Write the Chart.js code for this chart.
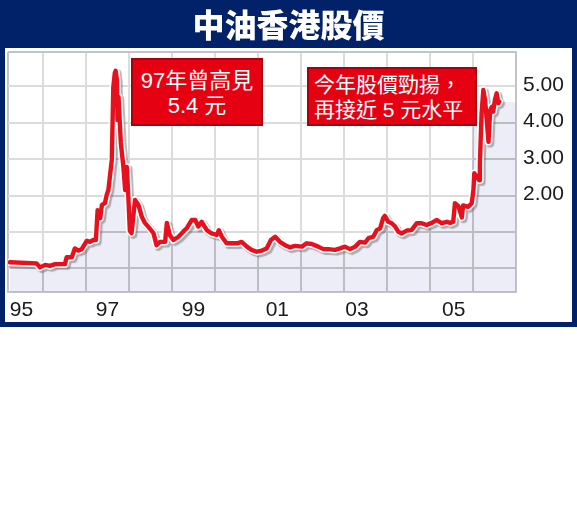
<!DOCTYPE html>
<html><head><meta charset="utf-8">
<script src="https://cdn.jsdelivr.net/npm/chart.js@4.4.0/dist/chart.umd.min.js"></script>
<style>
html,body{margin:0;padding:0;background:#fff;}
#wrap{position:relative;width:577px;height:327px;background:#012169;}
#panel{position:absolute;left:5px;top:48px;width:567px;height:274px;background:#fff;}
canvas{position:absolute;left:0;top:0;}
.note{position:absolute;box-sizing:border-box;background:#e50012;border:2px solid #a8000c;color:#fff;
 font-family:"Liberation Sans","Noto Sans CJK TC",sans-serif;line-height:25px;white-space:nowrap;}
#n1{left:131px;top:58px;width:132px;height:68px;text-align:center;font-size:22px;padding-top:8px;}
#n2{left:307px;top:67px;width:170px;height:59px;text-align:left;font-size:21px;padding-top:3px;padding-left:5px;}
</style></head>
<body>
<div id="wrap">
 <div id="panel"></div>
 <canvas id="c" width="577" height="327"></canvas>
 <div class="note" id="n1">97年曾高見<br>5.4 元</div>
 <div class="note" id="n2">今年股價勁揚，<br>再接近 5 元水平</div>
</div>
<script>
const dates = [1995.23,1995.85,1995.93,1996.05,1996.16,1996.28,1996.51,1996.55,1996.67,1996.74,1996.82,1996.90,
 1997.02,1997.09,1997.17,1997.23,1997.27,1997.33,1997.37,1997.44,1997.48,1997.52,1997.56,1997.60,1997.635,1997.67,
 1997.69,1997.72,1997.733,1997.756,1997.81,1997.87,1997.91,1997.95,1997.98,
 1998.02,1998.06,1998.14,1998.22,1998.30,1998.37,1998.45,1998.57,1998.64,1998.72,1998.84,1998.88,1998.95,
 1999.03,1999.15,1999.26,1999.34,1999.46,1999.54,1999.61,1999.69,1999.81,1999.92,
 2000.04,2000.09,2000.16,2000.27,2000.39,2000.51,2000.62,2000.74,2000.85,2000.97,
 2001.09,2001.20,2001.30,2001.40,2001.51,2001.63,2001.74,2001.86,
 2002.02,2002.13,2002.25,2002.40,2002.52,2002.64,2002.79,2002.91,
 2003.02,2003.14,2003.26,2003.37,2003.49,2003.57,2003.68,2003.76,2003.84,2003.91,2003.95,
 2004.03,2004.11,2004.19,2004.26,2004.34,2004.46,2004.57,2004.69,2004.81,2004.92,
 2005.04,2005.16,2005.27,2005.39,2005.47,2005.54,2005.58,2005.66,2005.74,2005.77,2005.89,2005.97,
 2006.01,2006.03,2006.09,2006.14,2006.16,2006.20,2006.24,2006.28,2006.32,2006.36,2006.40,2006.44,2006.47,
 2006.51,2006.55,2006.59,2006.61];
const prices = [0.17,0.14,0.03,0.10,0.07,0.12,0.12,0.31,0.31,0.55,0.49,0.53,
 0.76,0.73,0.78,0.78,1.60,1.38,1.74,1.79,2.01,2.15,2.56,2.97,4.97,5.36,
 5.42,5.16,4.07,4.70,3.44,2.78,2.15,2.78,2.07,
 1.03,0.97,1.88,1.74,1.41,1.25,1.14,0.97,0.64,0.73,0.73,1.25,0.92,
 0.78,0.87,1.01,1.10,1.33,1.33,1.15,1.28,1.05,0.96,
 0.92,1.05,0.87,0.69,0.69,0.69,0.73,0.60,0.51,0.46,
 0.49,0.55,0.78,0.87,0.73,0.64,0.58,0.62,
 0.60,0.69,0.67,0.60,0.53,0.53,0.51,0.55,
 0.60,0.53,0.60,0.73,0.71,0.83,0.87,1.05,1.10,1.38,1.44,
 1.28,1.24,1.15,1.01,0.96,1.04,1.05,1.24,1.24,1.19,
 1.25,1.33,1.24,1.28,1.25,1.28,1.79,1.71,1.40,1.73,1.69,1.79,
 2.15,2.61,2.52,2.42,2.88,4.25,4.89,4.62,4.07,3.47,4.34,4.43,4.30,
 4.62,4.80,4.53,4.57];

const xMin = 1995.186, xMax = 2007;
const yMin = -0.644, yMax = 5.932;
const gridYears = [1996,1997,1998,1999,2000,2001,2002,2003,2004,2005,2006];
const yGridValues = [0,1,2,3,4,5];
const yTickLabels = {2:'2.00',3:'3.00',4:'4.00',5:'5.00'};
const xLabelPositions = [1995.5,1997.5,1999.5,2001.45,2003.3,2005.55];
const xTickLabels = ['95','97','99','01','03','05'];
const areaTailStart = 2006.0, areaTailLevel = 4.56;

const LAV = '#ecedf6', DARKGRID = '#bcbcc2', GRID = '#dcdcdc', FRAME = '#c4c4c4';

const linePts = dates.map((d,i)=>({x:d,y:prices[i]}));
const areaPts = linePts.filter(p=>p.x<areaTailStart)
  .concat([{x:areaTailStart,y:areaTailLevel},{x:xMax,y:areaTailLevel}]);

let pat = null;
function areaPattern(ctx){
  const chart = ctx.chart;
  const a = chart.chartArea;
  if(!a) return LAV;
  if(pat) return pat;
  const x = chart.scales.x, y = chart.scales.y;
  const c = document.createElement('canvas');
  c.width = chart.width; c.height = chart.height;
  const g = c.getContext('2d');
  g.fillStyle = LAV; g.fillRect(0,0,c.width,c.height);
  g.strokeStyle = DARKGRID; g.lineWidth = 2;
  gridYears.forEach(v=>{const px=Math.round(x.getPixelForValue(v));g.beginPath();g.moveTo(px,a.top);g.lineTo(px,a.bottom);g.stroke();});
  yGridValues.forEach(v=>{const py=Math.round(y.getPixelForValue(v));g.beginPath();g.moveTo(a.left,py);g.lineTo(a.right,py);g.stroke();});
  g.strokeRect(Math.round(a.left),Math.round(a.top),Math.round(a.width),Math.round(a.height));
  pat = chart.ctx.createPattern(c,'no-repeat');
  return pat;
}

const shadowPlugin = {
  id:'lineShadow',
  beforeDatasetDraw(chart,args){
    if(chart.data.datasets[args.index].shadow){
      const ctx=chart.ctx; ctx.save();
      ctx.shadowColor='rgba(90,90,90,0.45)'; ctx.shadowOffsetX=2; ctx.shadowOffsetY=2; ctx.shadowBlur=1;
    }
  },
  afterDatasetDraw(chart,args){
    if(chart.data.datasets[args.index].shadow){ chart.ctx.restore(); }
  }
};

new Chart(document.getElementById('c'), {
  type:'line',
  data:{datasets:[
    {label:'price', data:linePts, xAxisID:'x', yAxisID:'y', borderColor:'#e8101c', borderWidth:4.4, pointRadius:0, tension:0,
     borderJoinStyle:'round', borderCapStyle:'round', fill:false, order:1},
    {label:'outline', data:linePts, xAxisID:'x', yAxisID:'y', borderColor:'#ffffff', borderWidth:7.5, pointRadius:0, tension:0,
     borderJoinStyle:'round', borderCapStyle:'round', fill:false, order:2, shadow:true},
    {label:'area', data:areaPts, xAxisID:'x', yAxisID:'y', borderWidth:0, borderColor:'rgba(0,0,0,0)', pointRadius:0, tension:0,
     fill:'start', backgroundColor:areaPattern, order:3}
  ]},
  options:{
    responsive:false, animation:false, devicePixelRatio:1,
    layout:{padding:0},
    plugins:{
      legend:{display:false}, tooltip:{enabled:false},
      title:{display:true, text:'中油香港股價', color:'#ffffff',
        font:{family:'"Noto Sans CJK TC"', size:32, weight:900, lineHeight:1},
        padding:{top:9,bottom:11}}
    },
    scales:{
      x:{type:'linear', min:xMin, max:xMax, position:'bottom',
        afterBuildTicks:(axis)=>{
          const vals=[xMin,...gridYears,xMax,...xLabelPositions].sort((a,b)=>a-b);
          axis.ticks=vals.map(v=>({value:v}));
        },
        afterFit:(s)=>{s.height=35;},
        grid:{drawTicks:false, lineWidth:2,
          color:(c)=>{const v=c.tick.value; if(gridYears.includes(v)) return GRID; if(v===xMin||v===xMax) return FRAME; return 'rgba(0,0,0,0)';}},
        border:{display:true,color:FRAME,width:2},
        ticks:{autoSkip:false, maxRotation:0, padding:6, color:'#1a1a1a',
          font:{family:'"Liberation Sans"', size:21},
          callback:(v)=>{const k=xLabelPositions.indexOf(v); return k>=0?xTickLabels[k]:'';}}
      },
      y:{type:'linear', min:yMin, max:yMax, position:'right',
        afterBuildTicks:(axis)=>{axis.ticks=[yMin,...yGridValues,yMax].map(v=>({value:v}));},
        afterFit:(s)=>{s.width=61;},
        grid:{drawTicks:false, lineWidth:2,
          color:(c)=>{const v=c.tick.value; if(yGridValues.includes(v)) return GRID; return FRAME;}},
        border:{display:true,color:FRAME,width:2},
        ticks:{padding:7, color:'#1a1a1a', labelOffset:-1,
          font:{family:'"Liberation Sans"', size:21},
          callback:(v)=>yTickLabels[v]!==undefined?yTickLabels[v]:''}
      },
      yl:{type:'linear', position:'left', display:true, min:0, max:1,
        afterFit:(s)=>{s.width=8;},
        grid:{display:false, drawTicks:false}, border:{display:false}, ticks:{display:false}}
    }
  },
  plugins:[shadowPlugin]
});
</script>
</body></html>
